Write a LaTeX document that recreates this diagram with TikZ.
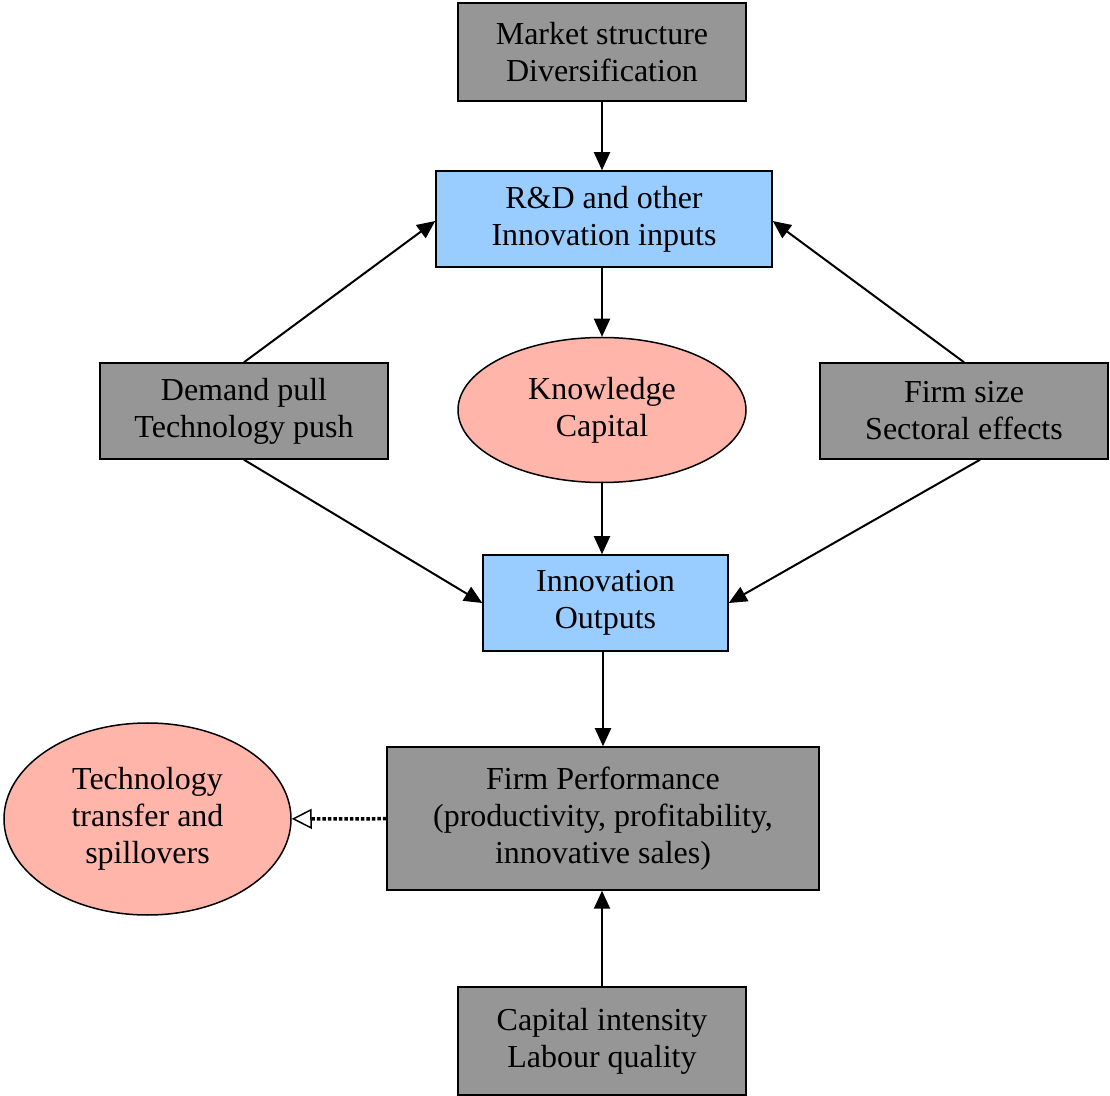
\documentclass[tikz,border=0pt]{standalone}
\usepackage{fontspec}
\setmainfont{Liberation Serif}
\usepackage{tikz}
\usetikzlibrary{calc,shapes.geometric,arrows.meta}

\definecolor{boxgray}{RGB}{150,150,150}
\definecolor{boxblue}{RGB}{153,204,255}
\definecolor{ovalpink}{RGB}{255,181,170}

\begin{document}
\begin{tikzpicture}[x=0.5pt,y=-0.5pt,
        every node/.style={font=\fontsize{16}{18.5}\selectfont, align=center, inner sep=0pt},
        graybox/.style={draw, line width=0.75pt, fill=boxgray, rectangle},
        bluebox/.style={draw, line width=0.75pt, fill=boxblue, rectangle},
        oval/.style={draw, line width=0.75pt, fill=ovalpink, ellipse},
        arr/.style={line width=1pt, -{Triangle[length=9pt,width=8pt]}}]
        \useasboundingbox (0,0) rectangle (1110,1096);
        % boxes
        \node[graybox, minimum width=144pt, minimum height=49pt] (market) at (602,52)
            {Market structure\\Diversification};
        \node[bluebox, minimum width=168pt, minimum height=48pt] (rd) at (604,219)
            {R\&D and other\\Innovation inputs};
        \node[graybox, minimum width=144pt, minimum height=48pt] (demand) at (244,411)
            {Demand pull\\Technology push};
        \node[oval, minimum width=144pt, minimum height=72.5pt] (know) at (602,410)
            {Knowledge\\Capital};
        \node[graybox, minimum width=144pt, minimum height=48pt] (size) at (964,411)
            {Firm size\\Sectoral effects};
        \node[bluebox, minimum width=122.5pt, minimum height=48pt] (out) at (605.5,603)
            {Innovation\\Outputs};
        \node[graybox, minimum width=216pt, minimum height=71.5pt] (perf) at (603,818.5)
            {Firm Performance\\(productivity, profitability,\\innovative sales)};
        \node[oval, minimum width=143.5pt, minimum height=96pt] (spill) at (147.5,819)
            {Technology\\transfer and\\spillovers};
        \node[graybox, minimum width=144pt, minimum height=54pt] (cap) at (602,1041)
            {Capital intensity\\Labour quality};
        % arrows
        \draw[arr] (market.south) -- (market.south |- rd.north);
        \draw[arr] (demand.north) -- ([yshift=-1pt]rd.west);
        \draw[arr] (size.north) -- ([yshift=-1pt]rd.east);
        \draw[arr] (know.north |- rd.south) -- (know.north);
        \draw[arr] (know.south) -- (know.south |- out.north);
        \draw[arr] (demand.south) -- (out.west);
        \draw[arr] ([xshift=8pt]size.south) -- (out.east);
        \draw[arr] (perf.north |- out.south) -- (perf.north);
        \draw[arr] (cap.north) -- (cap.north |- perf.south);
        \draw[line width=1.75pt, densely dotted, -{Triangle[open,length=10pt,width=10pt,line width=0.75pt]}] (perf) -- (spill);
\end{tikzpicture}
\end{document}
